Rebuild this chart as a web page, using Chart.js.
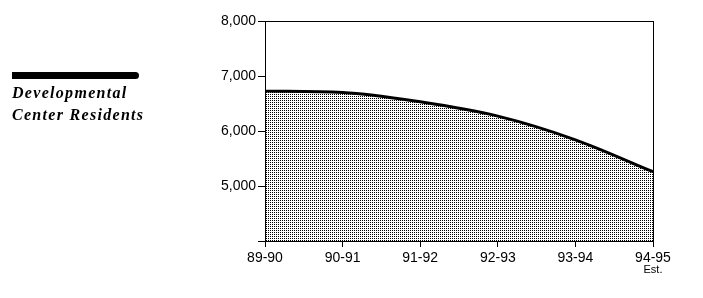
<!DOCTYPE html>
<html>
<head>
<meta charset="utf-8">
<script src="https://cdn.jsdelivr.net/npm/chart.js@4/dist/chart.umd.min.js"></script>
<style>
  body { margin: 0; background: #fff; }
  #wrap { position: relative; width: 703px; height: 298px; }
  #legend-bar { position: absolute; left: 12px; top: 72px; width: 127px; height: 7px; background: #000; border-radius: 0 4px 4px 0; }
  #legend-text { position: absolute; left: 12px; top: 82px; font: italic bold 16px "Liberation Serif", serif; letter-spacing: 1.3px; line-height: 22px; color: #000; }
</style>
</head>
<body>
<div id="wrap">
  <canvas id="chart" width="703" height="298"></canvas>
  <div id="legend-bar"></div>
  <div id="legend-text">Developmental<br>Center Residents</div>
</div>
<script>
const years = ['89-90', '90-91', '91-92', '92-93', '93-94', '94-95'];
const residents = [6725, 6700, 6530, 6270, 5840, 5260];
const lastNote = 'Est.';

const chartCanvas = document.getElementById('chart');

// stipple fill like the old bitmap pattern
function makePattern() {
  const p = document.createElement('canvas');
  p.width = 2;
  p.height = 2;
  const c = p.getContext('2d');
  c.fillStyle = '#fff';
  c.fillRect(0, 0, 2, 2);
  c.fillStyle = '#000';
  c.fillRect(0, 0, 1, 1);
  return chartCanvas.getContext('2d').createPattern(p, 'repeat');
}

const frameBox = {
  id: 'frameBox',
  afterDatasetsDraw(chart) {
    const { ctx, chartArea: a } = chart;
    ctx.save();
    ctx.strokeStyle = '#000';
    ctx.lineWidth = 1;
    ctx.strokeRect(a.left + 0.5, a.top + 0.5, a.right - a.left, a.bottom - a.top);
    ctx.restore();
  },
  afterDraw(chart) {
    const { ctx } = chart;
    const x = chart.scales.x.getPixelForValue(years.length - 1);
    ctx.save();
    ctx.fillStyle = '#000';
    ctx.font = '11px "Liberation Sans", sans-serif';
    ctx.textAlign = 'center';
    ctx.textBaseline = 'top';
    ctx.fillText(lastNote, x, 264);
    ctx.restore();
  }
};

new Chart(chartCanvas, {
  type: 'line',
  data: {
    labels: years,
    datasets: [{
      data: residents,
      borderColor: '#000',
      borderWidth: 3,
      backgroundColor: makePattern(),
      fill: 'start',
      pointRadius: 0,
      cubicInterpolationMode: 'monotone'
    }]
  },
  options: {
    responsive: false,
    animation: false,
    layout: { padding: { top: 21, right: 50, left: 0, bottom: 0 } },
    plugins: { legend: { display: false }, tooltip: { enabled: false } },
    scales: {
      x: {
        offset: false,
        afterFit(scale) { scale.height = 57; },
        grid: { drawOnChartArea: false, tickLength: 6, color: '#000' },
        border: { color: '#000' },
        ticks: {
          color: '#000',
          font: { family: '"Liberation Sans", sans-serif', size: 14 },
          padding: 3,
          maxRotation: 0,
          autoSkip: false
        }
      },
      y: {
        min: 4000,
        max: 8000,
        afterFit(scale) { scale.width = 265; },
        grid: { drawOnChartArea: false, tickLength: 7, color: '#000' },
        border: { color: '#000' },
        ticks: {
          stepSize: 1000,
          color: '#000',
          font: { family: '"Liberation Sans", sans-serif', size: 14 },
          padding: 2,
          callback: v => v === 4000 ? '' : v.toLocaleString('en-US')
        }
      }
    }
  },
  plugins: [frameBox]
});
</script>
</body>
</html>
